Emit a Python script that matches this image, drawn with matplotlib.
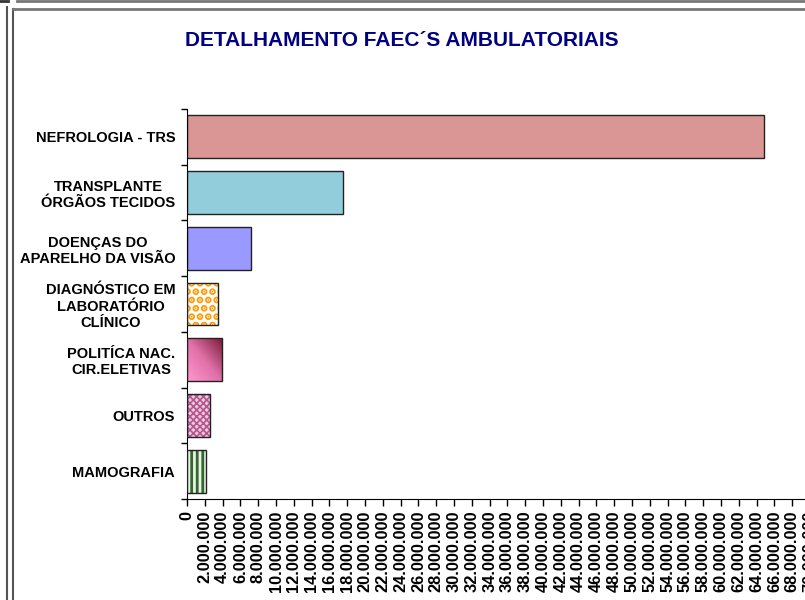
import numpy as np
import matplotlib
matplotlib.use('Agg')
import matplotlib.pyplot as plt
from matplotlib.colors import LinearSegmentedColormap
from matplotlib.ticker import FuncFormatter, MultipleLocator
from matplotlib.lines import Line2D

plt.rcParams['font.family'] = ['Liberation Sans', 'DejaVu Sans']

# data
categories = ['NEFROLOGIA - TRS', 'TRANSPLANTE\nÓRGÃOS TECIDOS', 'DOENÇAS DO\nAPARELHO DA VISÃO',
              'DIAGNÓSTICO EM\nLABORATÓRIO\nCLÍNICO', 'POLITÍCA NAC.\nCIR.ELETIVAS', 'OUTROS', 'MAMOGRAFIA']
values = [64800000, 17500000, 7200000, 3500000, 3900000, 2600000, 2100000]

title = 'DETALHAMENTO FAEC´S AMBULATORIAIS'

fig = plt.figure(figsize=(8.05, 6.00), dpi=100)
ax = fig.add_axes([187 / 805, 1 - 499 / 600, (72 * 8.9) / 805, 390 / 600])

ypos = np.arange(len(categories))
h = 0.77

# plain bars
ax.barh(ypos[0], values[0], height=h, color='#DA9694', edgecolor='#222222', linewidth=1)
ax.barh(ypos[1], values[1], height=h, color='#92CDDC', edgecolor='#222222', linewidth=1)
ax.barh(ypos[2], values[2], height=h, color='#9999FF', edgecolor='#222222', linewidth=1)

# patterned bars: hatch drawn in its own colour, then black outline on top
plt.rcParams['hatch.linewidth'] = 3.5
ax.barh(ypos[3], values[3], height=h, color='white', edgecolor='#FF9900', hatch='..', linewidth=0)

plt.rcParams['hatch.linewidth'] = 1.2
ax.barh(ypos[5], values[5], height=h, color='#EBCBE0', edgecolor='#B5568F', hatch='xxxxx', linewidth=0)

plt.rcParams['hatch.linewidth'] = 2.0
ax.barh(ypos[6], values[6], height=h, color='#E8F2E0', edgecolor='#336633', hatch='|||', linewidth=0)

# gradient bar (light bottom-left, dark top-right)
grad_cmap = LinearSegmentedColormap.from_list('pol', ['#FF99D0', '#E070A8', '#7A1E38'])
gx, gy = np.meshgrid(np.linspace(0, 1, 60), np.linspace(0, 1, 60))
ax.imshow((gx + (1 - gy)) / 2, cmap=grad_cmap, aspect='auto', origin='upper',
          extent=(0, values[4], ypos[4] + h / 2, ypos[4] - h / 2), zorder=2)

for i in [3, 4, 5, 6]:
    ax.barh(ypos[i], values[i], height=h, color='none', edgecolor='#222222', linewidth=1, zorder=3)

ax.set_ylim(len(categories) - 0.5, -0.5)
ax.set_xlim(0, 72000000)

ax.set_yticks(ypos)
ax.set_yticklabels(categories, fontsize=10.5, fontweight='bold', multialignment='center')
ax.set_yticks(np.arange(len(categories) + 1) - 0.5, minor=True)
ax.tick_params(axis='y', which='major', length=0, pad=8.5)
ax.tick_params(axis='y', which='minor', length=4, width=1)

ax.xaxis.set_major_locator(MultipleLocator(2000000))
ax.xaxis.set_major_formatter(FuncFormatter(lambda v, p: f'{int(v):,}'.replace(',', '.')))
ax.tick_params(axis='x', length=5, width=1, labelsize=11.8, labelrotation=90)
for t in ax.get_xticklabels():
    t.set_fontweight('bold')

ax.spines['top'].set_visible(False)
ax.spines['right'].set_visible(False)

fig.text(402 / 805, 1 - 41 / 600, title, ha='center', va='center',
         fontsize=15, fontweight='bold', color='#000080')

# window frame lines
fig.add_artist(Line2D([6.5 / 805, 6.5 / 805], [0, 1 - 7 / 600], color='#555555', lw=1.5))
fig.add_artist(Line2D([12.5 / 805, 12.5 / 805], [0, 1 - 9 / 600], color='#555555', lw=1.5))
fig.add_artist(Line2D([12.5 / 805, 1], [1 - 9 / 600, 1 - 9 / 600], color='#777777', lw=2))
fig.add_artist(Line2D([17 / 805, 1], [1 - 0.5 / 600, 1 - 0.5 / 600], color='#777777', lw=2))
fig.add_artist(Line2D([0, 8 / 805], [1 - 0.5 / 600, 1 - 0.5 / 600], color='#333333', lw=2))

fig.savefig('out.png', dpi=100)
